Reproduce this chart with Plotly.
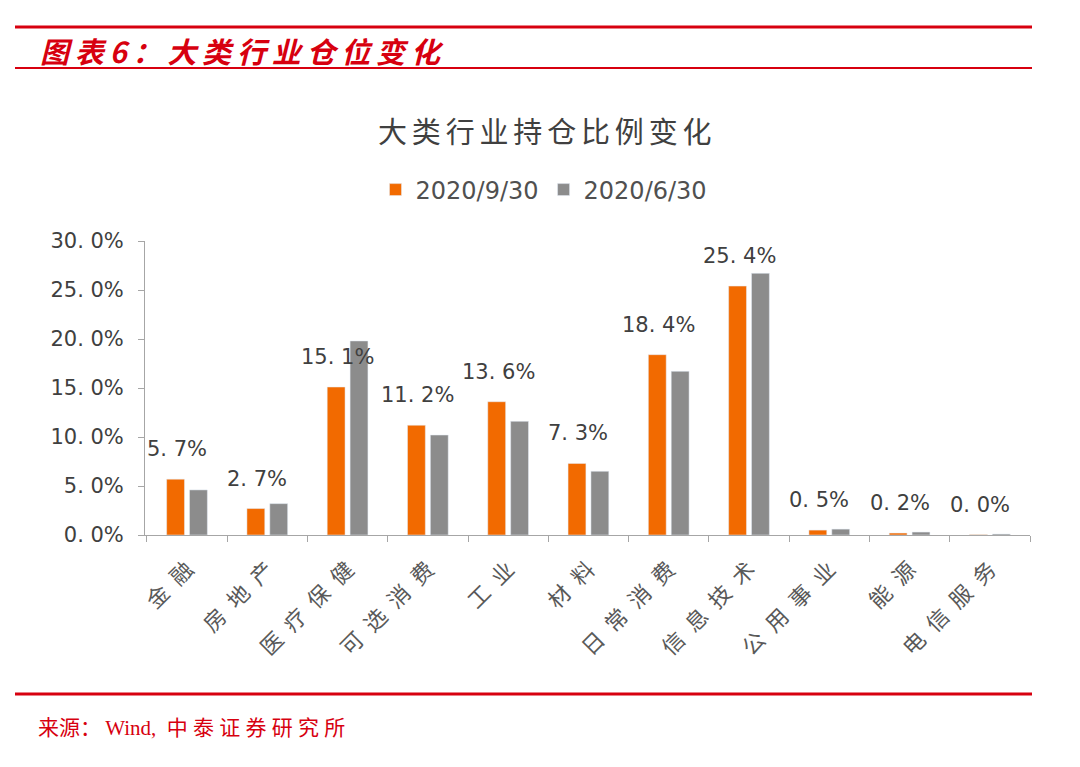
import plotly.graph_objects as go

categories = ["金融", "房地产", "医疗保健", "可选消费", "工业", "材料", "日常消费", "信息技术", "公用事业", "能源", "电信服务"]
sep_2020 = [5.7, 2.7, 15.1, 11.2, 13.6, 7.3, 18.4, 25.4, 0.5, 0.2, 0.04]
jun_2020 = [4.6, 3.2, 19.8, 10.2, 11.6, 6.5, 16.7, 26.7, 0.6, 0.3, 0.1]
label_text = ["5. 7%", "2. 7%", "15. 1%", "11. 2%", "13. 6%", "7. 3%", "18. 4%", "25. 4%", "0. 5%", "0. 2%", "0. 0%"]
y_tickvals = [0, 5, 10, 15, 20, 25, 30]
y_ticktext = ["0. 0%", "5. 0%", "10. 0%", "15. 0%", "20. 0%", "25. 0%", "30. 0%"]
series_names = ["2020/9/30", "2020/6/30"]

W, H = 1080, 767
L, R, T, B = 145, 50, 241, 232
PW, PH = W - L - R, H - T - B

def px(x):
    return (x - L) / PW

def py(y):
    return (H - B - y) / PH

def spaced(s, sp="\u2006"):
    return sp.join(s)

FONT = "Noto Sans CJK SC, sans-serif"
NUMFONT = "DejaVu Sans, Noto Sans CJK SC, sans-serif"
ORANGE = "#F26A00"
GRAY = "#8C8C8C"
RED = "#D7000F"

fig = go.Figure()
fig.add_trace(go.Bar(x=categories, y=sep_2020, name=series_names[0], marker_color=ORANGE))
fig.add_trace(go.Bar(x=categories, y=jun_2020, name=series_names[1], marker_color=GRAY))

for c, v, t in zip(categories, sep_2020, label_text):
    fig.add_annotation(x=c, y=v, text=t, showarrow=False, yshift=30, xshift=-10,
                       font=dict(family=NUMFONT, size=21, color="#404040"))

shapes = [
    dict(type="line", xref="paper", yref="paper", x0=px(15), x1=px(1032), y0=py(27), y1=py(27),
         line=dict(color=RED, width=3)),
    dict(type="line", xref="paper", yref="paper", x0=px(15), x1=px(1032), y0=py(68), y1=py(68),
         line=dict(color=RED, width=2)),
    dict(type="line", xref="paper", yref="paper", x0=px(15), x1=px(1032), y0=py(694), y1=py(694),
         line=dict(color=RED, width=3)),
]

fig.add_annotation(xref="paper", yref="paper", x=px(38), y=py(50), xanchor="left", yanchor="middle",
                   text="<b><i>" + spaced("图表6：大类行业仓位变化", "\u2009") + "</i></b>", showarrow=False,
                   font=dict(family=FONT, size=29, color=RED))
fig.add_annotation(xref="paper", yref="paper", x=px(545), y=py(130), xanchor="center", yanchor="middle",
                   text=spaced("大类行业持仓比例变化"), showarrow=False,
                   font=dict(family=FONT, size=29, color="#404040"))
fig.add_annotation(xref="paper", yref="paper", x=px(36), y=py(728), xanchor="left", yanchor="middle",
                   text="来源：\u2009Wind,\u2002" + spaced("中泰证券研究所", "\u2005"), showarrow=False,
                   font=dict(family="Liberation Serif, Noto Sans CJK SC, serif", size=21, color=RED))

fig.update_layout(
    width=W, height=H,
    margin=dict(l=L, r=R, t=T, b=B),
    paper_bgcolor="white", plot_bgcolor="white",
    barmode="group", bargap=0.43, bargroupgap=0.22,
    shapes=shapes,
    showlegend=True,
    legend=dict(orientation="h", x=px(544), y=py(190), xanchor="center", yanchor="middle",
                font=dict(family=NUMFONT, size=24, color="#505050"), itemwidth=30),
    font=dict(family=FONT),
)
fig.update_xaxes(showline=True, linecolor="#A6A6A6", linewidth=1, ticks="outside", tickcolor="#A6A6A6",
                 ticklen=6, tickson="boundaries", tickangle=-45, ticklabelstandoff=12,
                 tickvals=categories, ticktext=[spaced(c, "\u2002") for c in categories],
                 tickfont=dict(family=FONT, size=22, color="#595959"), showgrid=False)
fig.update_yaxes(range=[0, 30], tickvals=y_tickvals, ticktext=y_ticktext, showline=True,
                 linecolor="#A6A6A6", linewidth=1, ticks="outside", tickcolor="#A6A6A6", ticklen=6,
                 ticklabelstandoff=10,
                 showgrid=False, zeroline=False,
                 tickfont=dict(family=NUMFONT, size=21, color="#404040"))

fig.write_html("out.html")
